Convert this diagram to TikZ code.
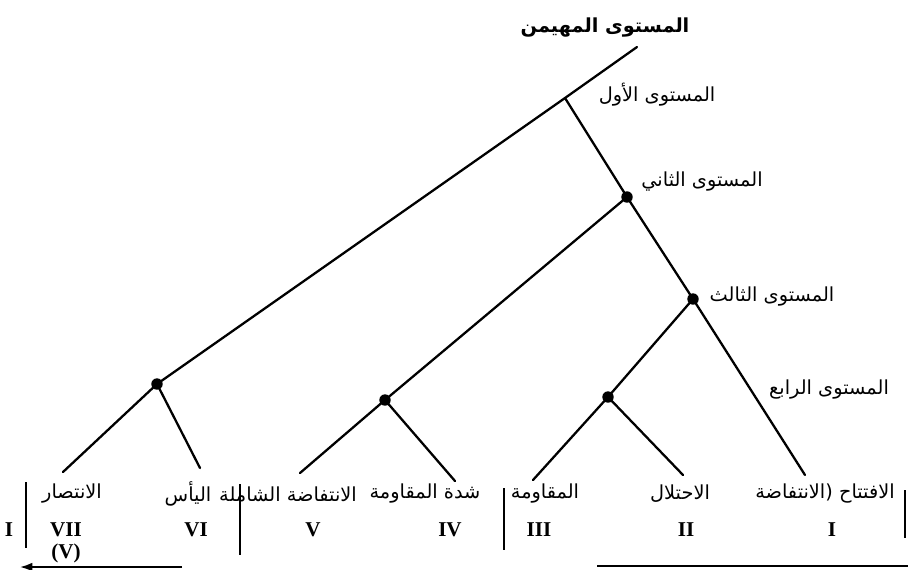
\documentclass[tikz,border=0pt]{standalone}
\usepackage{fontspec}
\setmainfont{Liberation Serif}
\newfontfamily\arabicfont[Script=Arabic]{DejaVu Sans}
\TeXXeTstate=1
\usetikzlibrary{arrows.meta, positioning}
\newcommand{\ar}[1]{\arabicfont\beginR #1\endR}

\begin{document}
\begin{tikzpicture}[
    x=0.02cm, y=-0.02cm,
    branch/.style={line width=1.3pt, line cap=round},
    dot/.style={circle, fill=black, inner sep=0pt, minimum size=6.5pt},
    lvl/.style={font=\fontsize{11}{13}\selectfont, inner sep=1pt},
    leaf/.style={font=\fontsize{11}{13}\selectfont, inner sep=1pt},
    num/.style={font=\fontsize{12}{14}\selectfont\bfseries, inner sep=1pt},
    bar/.style={line width=1.1pt}
]
\useasboundingbox (0,0) rectangle (908,569);
% tree points
\coordinate (top) at (637,47);
\coordinate (l1) at (565,98);
\node[dot] (n1) at (157,384) {};
\node[dot] (n2) at (627,197) {};
\node[dot] (n3) at (385,400) {};
\node[dot] (n4) at (693,299) {};
\node[dot] (n5) at (608,397) {};
\coordinate (e7) at (63,472);
\coordinate (e6) at (200,468);
\coordinate (e5) at (300,473);
\coordinate (e4) at (455,481);
\coordinate (e3) at (533,480);
\coordinate (e2) at (683,475);
\coordinate (e1) at (805,475);
% level labels
\node[lvl, font=\fontsize{11}{13}\selectfont\bfseries] (title) at (605,28) {\ar{المستوى المهيمن}};
\node[lvl] (lv1) at (657,95) {\ar{المستوى الأول}};
\node[lvl] (lv2) at (702,182) {\ar{المستوى الثاني}};
\node[lvl] (lv3) at (772,297) {\ar{المستوى الثالث}};
\node[lvl] (lv4) at (829,390) {\ar{المستوى الرابع}};
% leaves
\node[leaf] (a7) at (72,494) {\ar{الانتصار}};
\node[leaf] (a6) at (188,494) {\ar{اليأس}};
\node[leaf] (a5) at (288,494) {\ar{الانتفاضة الشاملة}};
\node[leaf] (a4) at (425,494) {\ar{شدة المقاومة}};
\node[leaf] (a3) at (545,494) {\ar{المقاومة}};
\node[leaf] (a2) at (680,494) {\ar{الاحتلال}};
\node[leaf] (a1) at (825,494) {\ar{الافتتاح (الانتفاضة}};
\node[num] (r7) at (66,530) {VII};
\node[num] (r7b) at (66,553) {(V)};
\node[num] (r0) at (9,530) {I};
\node[num] (r6) at (196,530) {VI};
\node[num] (r5) at (313,530) {V};
\node[num] (r4) at (450,530) {IV};
\node[num] (r3) at (539,530) {III};
\node[num] (r2) at (686,530) {II};
\node[num] (r1) at (832,530) {I};
% branches
\draw[branch] (top) -- (l1) -- (n1.center) -- (e7);
\draw[branch] (n1.center) -- (e6);
\draw[branch] (l1) -- (n2.center) -- (n4.center) -- (e1);
\draw[branch] (n2.center) -- (n3.center) -- (e5);
\draw[branch] (n3.center) -- (e4);
\draw[branch] (n4.center) -- (n5.center) -- (e3);
\draw[branch] (n5.center) -- (e2);
% separators and time line
\coordinate (b0t) at (26,482); \coordinate (b0b) at (26,548);
\coordinate (b1t) at (240,484); \coordinate (b1b) at (240,555);
\coordinate (b2t) at (504,488); \coordinate (b2b) at (504,550);
\coordinate (b3t) at (905,490); \coordinate (b3b) at (905,538);
\draw[bar] (b0t) -- (b0b);
\draw[bar] (b1t) -- (b1b);
\draw[bar] (b2t) -- (b2b);
\draw[bar] (b3t) -- (b3b);
\coordinate (t0) at (182,567); \coordinate (t1) at (20,567);
\coordinate (t2) at (597,566); \coordinate (t3) at (908,566);
\draw[bar, -{Latex[length=7pt, width=5pt]}] (t0) -- (t1);
\draw[bar] (t2) -- (t3);
\end{tikzpicture}
\end{document}
